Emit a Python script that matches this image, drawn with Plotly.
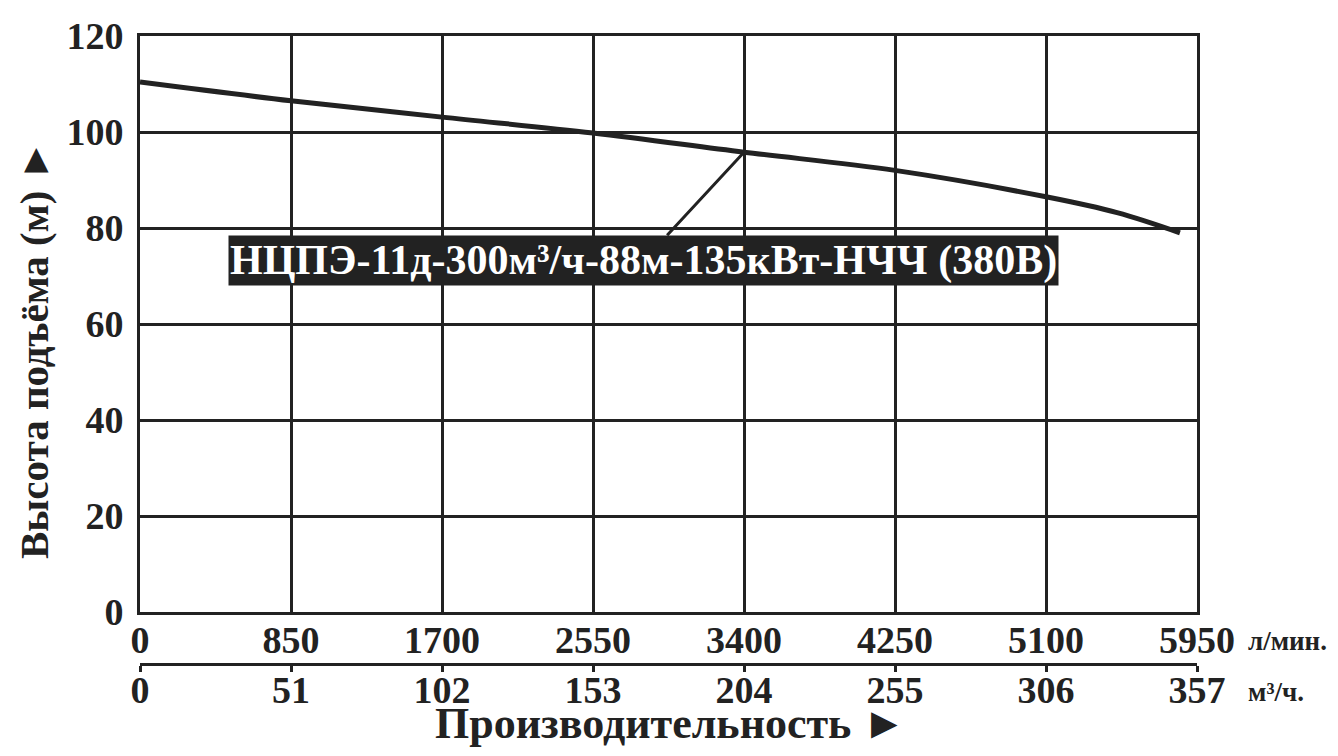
import plotly.graph_objects as go

# Data
flow_lpm = [0, 850, 1700, 2550, 3400, 4250, 5100, 5500, 5854]
head_m = [110.4, 106.5, 103.1, 99.8, 95.8, 92.0, 86.5, 83.2, 79.0]
x_ticks_lpm = [0, 850, 1700, 2550, 3400, 4250, 5100, 5950]
x_ticks_m3h = [0, 51, 102, 153, 204, 255, 306, 357]
y_ticks = [0, 20, 40, 60, 80, 100, 120]
label_text = "НЦПЭ-11д-300м³/ч-88м-135кВт-НЧЧ (380В)"
op_point = (3400, 95.8)
label_pos = (2837, 73.3)

INK = "#222222"
FONT = "Liberation Serif"

fig = go.Figure()
fig.add_trace(go.Scatter(x=flow_lpm, y=head_m, mode="lines",
                         line=dict(color=INK, width=5, shape="spline"),
                         showlegend=False, hoverinfo="skip"))
# invisible trace that carries the second (m³/h) axis
fig.add_trace(go.Scatter(x=[x_ticks_m3h[0], x_ticks_m3h[-1]], y=[None, None],
                         xaxis="x2", yaxis="y2", mode="lines", showlegend=False,
                         hoverinfo="skip"))

H = 756
W = 1338
ml, mr = 140, 141
mt, mb = 36, 20
ph = H - mt - mb
pw = W - ml - mr
ydom0 = (H - mb - 612) / ph
x2pos = (H - mb - 663) / ph


def px(x):
    return (x - ml) / pw


def py(y):
    return (H - mb - y) / ph


tickfont = dict(family=FONT, size=38, color=INK, weight="bold")

fig.update_layout(
    width=W, height=H,
    margin=dict(l=ml, r=mr, t=mt, b=mb, autoexpand=False),
    paper_bgcolor="white", plot_bgcolor="white",
    font=dict(family=FONT, color=INK),
    xaxis=dict(range=[0, 5950], tickvals=x_ticks_lpm,
               ticktext=[str(v) for v in x_ticks_lpm],
               showgrid=True, gridcolor=INK, gridwidth=3,
               showline=True, linecolor=INK, linewidth=3, mirror=True,
               zeroline=False, ticks="", ticklabelstandoff=-8,
               tickfont=tickfont, anchor="y", automargin=False),
    xaxis2=dict(range=[0, 357], tickvals=x_ticks_m3h,
                ticktext=[str(v) for v in x_ticks_m3h],
                anchor="y2", side="bottom", domain=[0, 1],
                showgrid=False, zeroline=False,
                showline=True, linecolor=INK, linewidth=3,
                ticks="outside", ticklen=6, tickwidth=3, tickcolor=INK,
                ticklabelstandoff=-15, automargin=False,
                tickfont=tickfont),
    yaxis=dict(range=[0, 120], tickvals=y_ticks, domain=[ydom0, 1],
               showgrid=True, gridcolor=INK, gridwidth=3,
               showline=True, linecolor=INK, linewidth=3, mirror=True,
               zeroline=False, ticks="", ticklabelstandoff=6,
               tickfont=tickfont, automargin=False),
    yaxis2=dict(domain=[x2pos, x2pos + 0.01], visible=False, range=[0, 1],
                showgrid=False, zeroline=False, automargin=False),
)

fig.add_annotation(x=op_point[0], y=op_point[1], ax=label_pos[0], ay=label_pos[1],
                   xref="x", yref="y", axref="x", ayref="y",
                   text=label_text, showarrow=True, arrowhead=0, arrowwidth=3,
                   arrowcolor=INK, bgcolor=INK, borderpad=1,
                   font=dict(family=FONT, size=42, color="white", weight="bold"))

common = dict(xref="paper", yref="paper", showarrow=False,
              xanchor="center", yanchor="middle")
fig.add_annotation(x=px(1287), y=py(641), text="л/мин.",
                   font=dict(family=FONT, size=27, weight="bold"), **common)
fig.add_annotation(x=px(1276), y=py(692), text="м³/ч.",
                   font=dict(family=FONT, size=27, weight="bold"), **common)
fig.add_annotation(x=px(670), y=py(723), text="Производительность ►",
                   font=dict(family=FONT, size=44, weight="bold"), **common)
fig.add_annotation(x=px(34), y=py(350), text="Высота подъёма (м) ►", textangle=-90,
                   font=dict(family=FONT, size=41, weight="bold"), **common)

fig.write_html("out.html", config={"displayModeBar": False},
               post_script="document.body.style.margin='0';")
